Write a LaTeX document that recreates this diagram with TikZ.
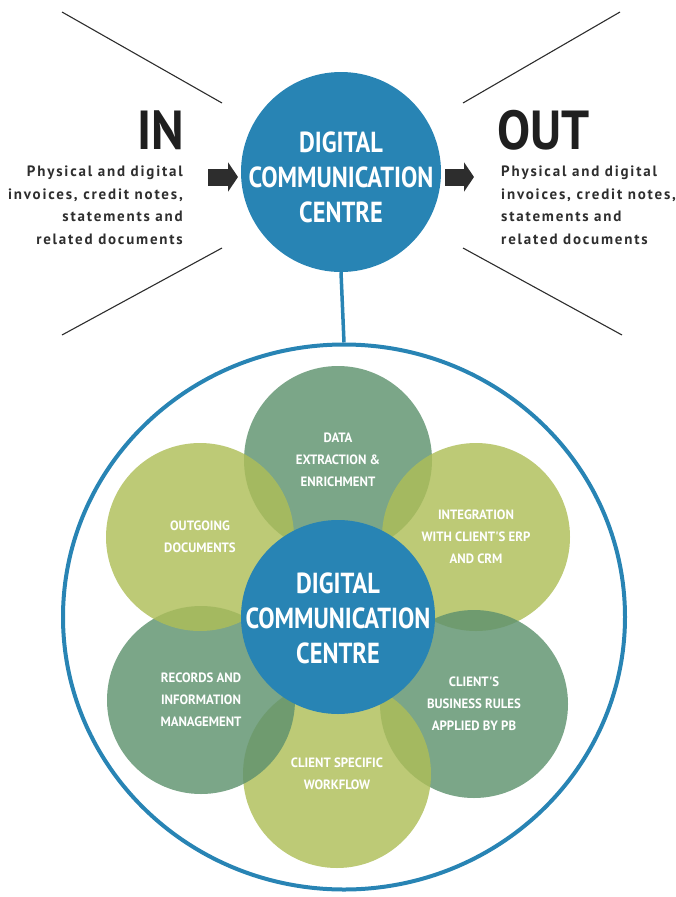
\documentclass[tikz,border=0pt]{standalone}
\usepackage{fontspec}
\newfontfamily\dinfont[FakeStretch=0.84]{PT Sans}
\newfontfamily\bigfont[FakeStretch=0.9]{PT Sans}
\newfontfamily\petalfont[FakeStretch=0.95]{PT Sans}
\newfontfamily\bodyfont[LetterSpace=12]{PT Sans}
\usetikzlibrary{shapes.geometric,arrows.meta}
\definecolor{dccblue}{RGB}{40,132,180}
\definecolor{darkpetal}{RGB}{94,146,110}
\definecolor{lightpetal}{RGB}{174,190,88}
\definecolor{linegray}{RGB}{45,45,45}
\tikzset{
  deco/.style={draw=linegray, line width=1.1pt},
  hub/.style={circle, fill=dccblue, minimum size=#1, inner sep=0pt},
  hubtext/.style={text=white, inner sep=0pt,
    font=\dinfont\bfseries\fontsize{29}{35}\selectfont, align=center},
  petal/.style={circle, fill=#1, fill opacity=0.82, text opacity=1, minimum size=188, inner sep=0pt,
    text=white, font=\petalfont\bfseries\fontsize{13.5}{22}\selectfont, align=center},
  bigword/.style={inner sep=0pt, font=\bigfont\bfseries\fontsize{55}{55}\selectfont, text=black!88},
  body/.style={inner sep=0pt, font=\bodyfont\bfseries\fontsize{15}{22.5}\selectfont, text=black!82},
  blockarrow/.style={draw=linegray, line width=17pt, -{Triangle[length=10pt, width=29pt]}},
  link/.style={draw=dccblue, line width=3.5pt}
}
\begin{document}
\begin{tikzpicture}[x=1pt,y=-1pt]
\useasboundingbox (0,0) rectangle (675,897);
% decorative diagonals
\draw[deco] (62,12) -- (222,103);
\draw[deco] (222,248) -- (62,335);
\draw[deco] (620,12) -- (463,103);
\draw[deco] (463,248) -- (622,335);
% top hub
\node[hub=200] (dcc) at (341,172) {};
\node[hubtext] (dcctext) at (341,177) {DIGITAL\\COMMUNICATION\\CENTRE};
% IN / OUT
\node[bigword, anchor=south east] (in) at (184,150) {IN};
\node[bigword, anchor=south west] (out) at (497,150) {OUT};
\node[body, anchor=north east, align=right] (intext) at (183,166)
  {Physical and digital\\invoices, credit notes,\\statements and\\related documents};
\node[body, anchor=north west, align=left] (outtext) at (501,166)
  {Physical and digital\\invoices, credit notes,\\statements and\\related documents};
\coordinate (inA) at (208,177);
\coordinate (outA) at (445,177);
\draw[blockarrow] (inA) -- ++(30,0) coordinate (inB);
\draw[blockarrow] (outA) -- ++(29,0) coordinate (outB);
% outer ellipse
\node[ellipse, draw=dccblue, line width=4pt, minimum width=562, minimum height=545, inner sep=0pt] (outer) at (344,617) {};
\draw[link] (dcc.south) -- (outer.north);
% petals
\node[petal=darkpetal] (p1) at (338,460) {DATA\\EXTRACTION \&\\ENRICHMENT};
\node[petal=lightpetal] (p2) at (476,537) {INTEGRATION\\WITH CLIENT'S ERP\\AND CRM};
\node[petal=darkpetal] (p3) at (474,704) {CLIENT'S\\BUSINESS RULES\\APPLIED BY PB};
\node[petal=lightpetal] (p4) at (337,774) {CLIENT SPECIFIC\\WORKFLOW};
\node[petal=darkpetal] (p5) at (201,700) {RECORDS AND\\INFORMATION\\MANAGEMENT};
\node[petal=lightpetal] (p6) at (200,537) {OUTGOING\\DOCUMENTS};
% central hub
\node[hub=194] (core) at (338,617) {};
\node[hubtext] (coretext) at (338,618) {DIGITAL\\COMMUNICATION\\CENTRE};
\end{tikzpicture}
\end{document}
